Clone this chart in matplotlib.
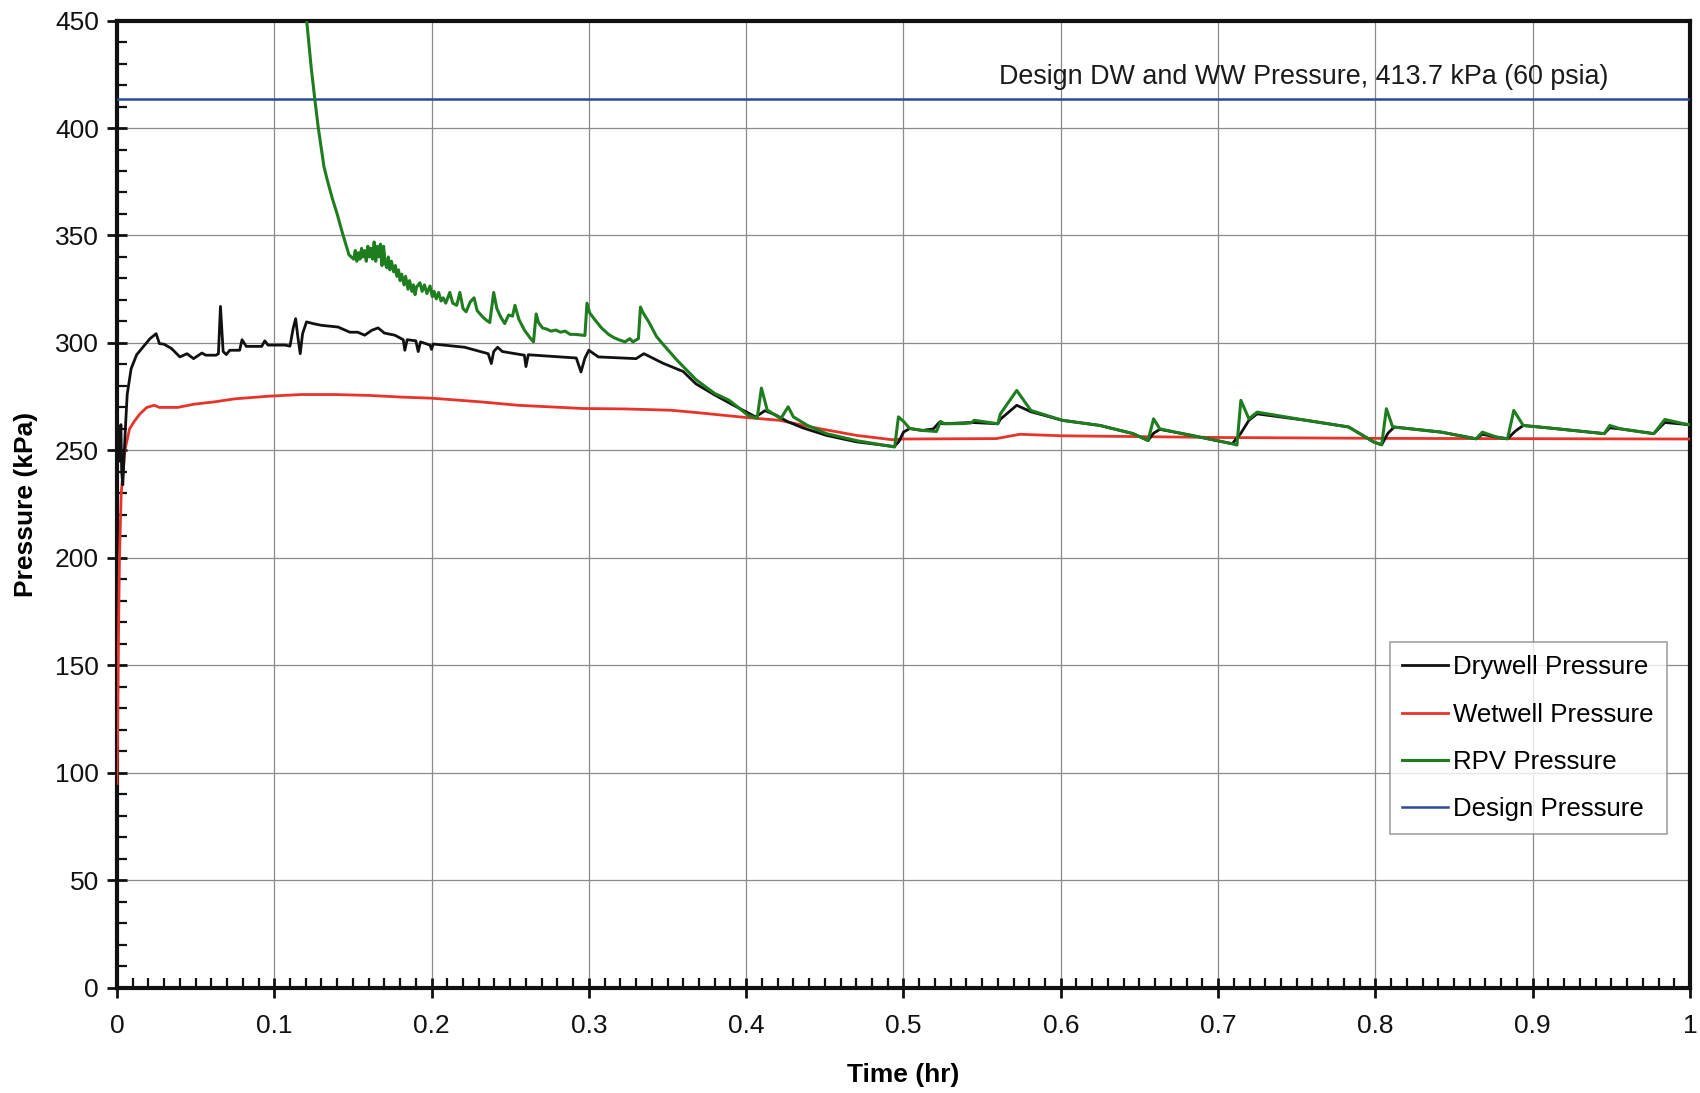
import matplotlib
matplotlib.use("Agg")
import matplotlib.pyplot as plt
from matplotlib.ticker import MultipleLocator, FixedLocator

plt.rcParams['font.family'] = ['Liberation Sans', 'DejaVu Sans']

# ---------------- data ----------------
dw_t = [0.0005, 0.0015, 0.0025, 0.003, 0.0037, 0.0052, 0.0065, 0.009, 0.0125, 0.0165,
        0.021, 0.0249, 0.027, 0.030, 0.0347, 0.040, 0.0445, 0.0487, 0.054, 0.0565,
        0.063, 0.0645, 0.0658, 0.0675, 0.0695, 0.0717, 0.078, 0.0795, 0.0822, 0.092,
        0.094, 0.096, 0.107, 0.110, 0.112, 0.1136, 0.115, 0.1165, 0.118, 0.1205,
        0.1247, 0.13, 0.1406, 0.148, 0.153, 0.1575, 0.162, 0.166, 0.170, 0.1767,
        0.182, 0.183, 0.1845, 0.190, 0.1915, 0.193, 0.199, 0.200, 0.201, 0.221,
        0.236, 0.238, 0.2395, 0.242, 0.245, 0.259, 0.260, 0.2615, 0.292, 0.295,
        0.2975, 0.300, 0.306, 0.330, 0.335, 0.347, 0.360, 0.368, 0.380, 0.392,
        0.406, 0.412, 0.419, 0.426, 0.436, 0.451, 0.470, 0.494, 0.497, 0.500,
        0.504, 0.512, 0.519, 0.5227, 0.525, 0.543, 0.560, 0.5616, 0.572, 0.581,
        0.601, 0.625, 0.646, 0.6555, 0.659, 0.663, 0.683, 0.709, 0.7145, 0.7196,
        0.7248, 0.756, 0.783, 0.799, 0.804, 0.808, 0.812, 0.842, 0.864, 0.868,
        0.877, 0.884, 0.889, 0.894, 0.911, 0.9455, 0.949, 0.956, 0.977, 0.984,
        0.996, 1.0]
dw_p = [252, 245, 262, 240, 234, 258, 276, 288, 294.5, 298,
        302, 304.3, 299.7, 299.4, 297.4, 293.5, 295, 292.7, 295.3, 294.3,
        294.3, 295, 317, 296, 294.6, 296.6, 296.6, 301.5, 298.4, 298.4,
        301, 299, 299, 298.5, 306.7, 311.3, 302.8, 295, 304.3, 309.8,
        309, 308.2, 307.4, 305, 305, 303.6, 305.9, 307, 304.6, 303.6,
        301.5, 296.6, 301.5, 301, 296, 300.5, 299, 297, 299.5, 298,
        295, 290.4, 296, 298, 296, 294.3, 289, 294.5, 293, 286.5,
        293, 296.6, 293.5, 292.7, 295, 290.6, 286.7, 281, 275.8, 271,
        265.6, 268.5, 266.4, 263.5, 260.5, 257, 254, 251.8, 254, 258.5,
        260.2, 259.3, 260, 263, 262.4, 263, 262.4, 264.5, 271, 268,
        264, 261.6, 257.8, 254.6, 258, 259.8, 257, 253.1, 258, 264,
        267, 264, 260.9, 253.9, 252.6, 258, 260.9, 258.5, 255.4, 257.5,
        256.2, 255.4, 259, 261.6, 260.4, 257.8, 260.5, 260, 257.8, 263,
        262.2, 261.8]

ww_t = [0.0, 0.0004, 0.001, 0.0016, 0.0027, 0.005, 0.008, 0.011, 0.0146, 0.019,
        0.0237, 0.027, 0.0386, 0.049, 0.062, 0.075, 0.096, 0.117, 0.138, 0.16,
        0.181, 0.2, 0.231, 0.255, 0.296, 0.323, 0.352, 0.37, 0.4, 0.4213,
        0.446, 0.47, 0.4925, 0.5, 0.559, 0.574, 0.601, 0.704, 0.807, 1.0]
ww_p = [95, 118, 165, 200, 230, 250, 260, 263.5, 267, 270,
        271, 270, 270, 271.5, 272.6, 274, 275.2, 276, 276, 275.6,
        274.8, 274.3, 272.6, 271, 269.5, 269.3, 268.7, 267.5, 265.3, 264,
        260.2, 257, 255, 255.3, 255.5, 257.5, 256.8, 256, 255.6, 255.3]

rpv_t = [0.118, 0.1206, 0.1235, 0.126, 0.128, 0.130, 0.1316, 0.1337, 0.137, 0.140,
         0.143, 0.1453, 0.1475, 0.1505,
         0.1515, 0.1525, 0.1535, 0.1545, 0.1555, 0.1565, 0.1575, 0.1585, 0.1595, 0.1605,
         0.1615, 0.1625, 0.1635, 0.1645, 0.1655, 0.1665, 0.1675, 0.1685, 0.1695, 0.1705,
         0.1716, 0.1725, 0.1735, 0.1745, 0.176, 0.177, 0.178, 0.179, 0.180, 0.181,
         0.1825, 0.1835, 0.185, 0.186, 0.1875, 0.1885, 0.1895, 0.1905, 0.1926, 0.194,
         0.1955, 0.197, 0.199, 0.2005, 0.2016, 0.203, 0.2045, 0.206, 0.2074, 0.209,
         0.2116, 0.2135, 0.216, 0.218, 0.220, 0.222, 0.2245, 0.227, 0.229, 0.2326,
         0.235, 0.237, 0.2395, 0.2415, 0.244, 0.2465, 0.249, 0.2515, 0.253, 0.2555,
         0.259, 0.2625, 0.2648, 0.2665, 0.268, 0.2705, 0.273, 0.276, 0.279, 0.282,
         0.285, 0.288, 0.291, 0.2975, 0.2988, 0.3005, 0.3036, 0.308, 0.3125, 0.3158,
         0.319, 0.323, 0.326, 0.328, 0.3315, 0.3328, 0.3345, 0.338, 0.343, 0.347,
         0.35, 0.356, 0.362, 0.368, 0.374, 0.38, 0.389, 0.395, 0.401, 0.407,
         0.4097, 0.4134, 0.422, 0.4267, 0.430, 0.4388, 0.451, 0.4705, 0.4944, 0.4968,
         0.500, 0.504, 0.512, 0.521, 0.5235, 0.526, 0.538, 0.543, 0.545, 0.56,
         0.5616, 0.572, 0.581, 0.601, 0.625, 0.646, 0.6555, 0.659, 0.663, 0.683,
         0.709, 0.712, 0.7145, 0.7196, 0.7248, 0.756, 0.783, 0.799, 0.804, 0.807,
         0.811, 0.842, 0.864, 0.868, 0.877, 0.884, 0.888, 0.894, 0.911, 0.9455,
         0.949, 0.956, 0.977, 0.984, 0.996, 1.0]
rpv_p = [462, 450, 428, 412, 400, 390, 382, 375.8, 367, 360,
         352, 346.3, 341, 339,
         343, 338, 342, 339, 344, 340, 343, 338, 345, 340,
         344, 339, 347, 338, 345, 340, 346, 336, 345, 337,
         335, 340, 334, 338, 333, 336, 331, 334, 329, 332,
         327, 331, 325, 329, 324, 327, 322.5, 326, 328, 324,
         327, 323, 326.5, 321.5, 324, 320.5, 323.5, 319.5, 321, 318.5,
         323.5, 318.5, 317.5, 323.5, 316, 314.5, 319, 321, 315, 312,
         310.5, 309.5, 323.5, 316, 312, 309, 313, 312.5, 317.5, 311,
         306, 302.5, 300.5, 313.5, 309.5, 307, 306.5, 305.5, 306, 305,
         305.5, 304, 304, 303.5, 318.5, 314, 311, 307, 304, 302.5,
         301.5, 300.5, 302, 300.5, 302, 316.7, 314, 309.9, 303, 299.5,
         297, 292, 287.5, 283, 279.7, 276.5, 273.4, 270, 266.4, 265,
         279, 268.8, 264.8, 270.3, 265.6, 261.7, 257.8, 254.5, 251.6, 265.6,
         263.5, 260.2, 259.3, 258.8, 263.5, 262.4, 262.5, 262.8, 264, 262.4,
         267, 277.9, 268.6, 264, 261.6, 257.8, 254.6, 264.7, 260, 257,
         253.1, 252.5, 273.3, 264.7, 267.8, 264, 260.9, 253.9, 252.6, 269.4,
         260.9, 258.5, 255.4, 258.5, 256.2, 255.4, 268.6, 261.6, 260.4, 257.8,
         261.6, 260, 257.8, 264.4, 262.4, 262]

design_t = [0.0, 1.0]
design_p = [413.7, 413.7]

series_labels = ['Drywell Pressure', 'Wetwell Pressure', 'RPV Pressure', 'Design Pressure']
annotation_text = 'Design DW and WW Pressure, 413.7 kPa (60 psia)'
xtick_vals = [0, 0.1, 0.2, 0.3, 0.4, 0.5, 0.6, 0.7, 0.8, 0.9, 1.0]
xtick_labels = ['0', '0.1', '0.2', '0.3', '0.4', '0.5', '0.6', '0.7', '0.8', '0.9', '1']
ytick_vals = [0, 50, 100, 150, 200, 250, 300, 350, 400, 450]

# ---------------- figure ----------------
fig = plt.figure(figsize=(17, 10.93), dpi=100)
ax = fig.add_axes([0.0688, 0.0963, 0.9253, 0.8849])

ax.plot(dw_t, dw_p, color='#111111', lw=2.0, label=series_labels[0], zorder=4)
ax.plot(ww_t, ww_p, color='#e8332b', lw=2.0, label=series_labels[1], zorder=3)
ax.plot(rpv_t, rpv_p, color='#1e7d1e', lw=2.2, label=series_labels[2], zorder=5)
ax.plot(design_t, design_p, color='#2c4a9c', lw=1.8, label=series_labels[3], zorder=3)

ax.set_xlim(0, 1)
ax.set_ylim(0, 450)
ax.xaxis.set_major_locator(FixedLocator(xtick_vals))
ax.set_xticklabels(xtick_labels)
ax.yaxis.set_major_locator(FixedLocator(ytick_vals))
ax.xaxis.set_minor_locator(MultipleLocator(0.01))
ax.yaxis.set_minor_locator(MultipleLocator(10))

ax.tick_params(axis='both', which='major', direction='inout', length=14, width=2,
               labelsize=19, colors='#111111')
ax.tick_params(axis='both', which='minor', direction='in', length=7, width=1.6,
               colors='#111111')
ax.tick_params(axis='x', which='major', pad=12)
ax.tick_params(axis='y', which='major', pad=6)

for s in ax.spines.values():
    s.set_linewidth(3)
    s.set_color('#111111')

ax.grid(True, which='major', color='#8a8a8a', lw=0.9)
ax.set_axisbelow(True)

ax.set_xlabel('Time (hr)', fontsize=19, fontweight='bold', labelpad=18)
ax.set_ylabel('Pressure (kPa)', fontsize=19, fontweight='bold', labelpad=12)

ax.text(0.561, 423.7, annotation_text, fontsize=19.4, ha='left', va='center',
        color='#1a1a1a')

leg = ax.legend(loc='upper left', bbox_to_anchor=(0.809, 0.357), fontsize=18.6,
                frameon=True, fancybox=False, edgecolor='#8a8a8a',
                handlelength=1.75, labelspacing=0.9, borderpad=0.5,
                handletextpad=0.22, borderaxespad=0)
leg.get_frame().set_linewidth(1.2)

fig.savefig('out.png', dpi=100)
